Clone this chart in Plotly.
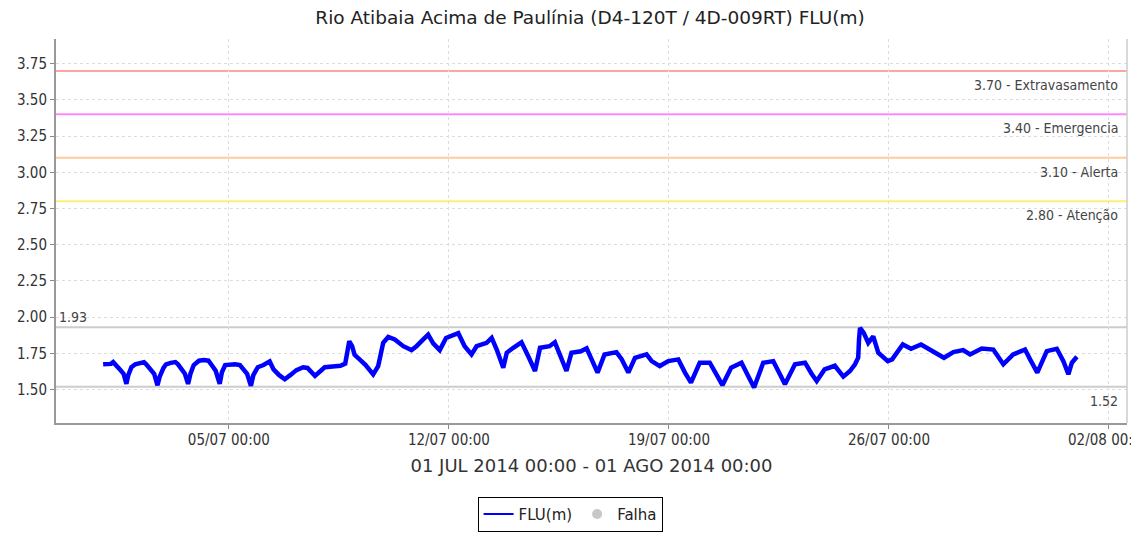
"""
Nivel do Rio Atibaia (FLU) - julho 2014, com cotas de alerta.
"""

import plotly.graph_objects as go

_BLUE = "#0000FF"
_GRID = "#DDDDDD"
_TEXT = "#333333"
_FONT = "DejaVu Sans"
_FONT_COND = "DejaVu Sans Condensed"

TITLE = "Rio Atibaia Acima de Paulínia (D4-120T / 4D-009RT) FLU(m)"
PERIOD = "01 JUL 2014 00:00 - 01 AGO 2014 00:00"

# ─── DATA ─────────────────────────────────────────────────────────────────────

times = [
    "2014-07-01 00:00", "2014-07-01 03:00", "2014-07-01 06:00", "2014-07-01 07:40",
    "2014-07-01 09:10", "2014-07-01 10:50", "2014-07-01 13:10", "2014-07-01 15:35",
    "2014-07-01 17:45", "2014-07-01 19:10", "2014-07-01 21:35", "2014-07-02 00:30",
    "2014-07-02 03:35", "2014-07-02 07:10", "2014-07-02 08:55", "2014-07-02 12:00",
    "2014-07-02 14:55", "2014-07-02 17:30", "2014-07-02 19:10", "2014-07-02 22:05",
    "2014-07-03 00:00", "2014-07-03 03:35", "2014-07-03 07:10", "2014-07-03 09:10",
    "2014-07-03 12:00", "2014-07-03 14:25", "2014-07-03 16:50", "2014-07-03 18:40",
    "2014-07-03 21:10", "2014-07-04 01:10", "2014-07-04 04:50", "2014-07-04 08:25",
    "2014-07-04 10:50", "2014-07-04 13:55", "2014-07-04 17:00", "2014-07-04 18:40",
    "2014-07-04 21:10", "2014-07-05 01:10", "2014-07-05 04:50", "2014-07-05 08:25",
    "2014-07-05 10:50", "2014-07-05 13:55", "2014-07-05 16:50", "2014-07-05 18:40",
    "2014-07-05 22:05", "2014-07-06 02:25", "2014-07-06 07:10", "2014-07-06 10:05",
    "2014-07-06 14:25", "2014-07-06 18:40", "2014-07-06 22:50", "2014-07-07 03:35",
    "2014-07-07 08:40", "2014-07-07 12:00", "2014-07-07 17:45", "2014-07-07 21:35",
    "2014-07-08 01:10", "2014-07-08 07:10", "2014-07-08 13:10", "2014-07-08 16:50",
    "2014-07-08 18:00", "2014-07-08 19:55", "2014-07-08 22:05", "2014-07-09 00:00",
    "2014-07-09 04:50", "2014-07-09 08:25", "2014-07-09 14:10", "2014-07-09 18:00",
    "2014-07-09 21:50", "2014-07-10 01:40", "2014-07-10 06:40", "2014-07-10 13:10",
    "2014-07-10 19:25", "2014-07-10 23:15", "2014-07-11 04:50", "2014-07-11 08:10",
    "2014-07-11 12:00", "2014-07-11 17:00", "2014-07-11 21:50", "2014-07-12 02:25",
    "2014-07-12 07:10", "2014-07-12 12:00", "2014-07-12 17:15", "2014-07-12 21:10",
    "2014-07-13 04:50", "2014-07-13 08:40", "2014-07-13 12:30", "2014-07-13 17:30",
    "2014-07-13 20:10", "2014-07-14 01:10", "2014-07-14 07:25", "2014-07-14 12:30",
    "2014-07-14 17:45", "2014-07-14 21:35", "2014-07-15 04:50", "2014-07-15 08:55",
    "2014-07-15 12:45", "2014-07-15 17:45", "2014-07-15 21:35", "2014-07-16 04:50",
    "2014-07-16 09:10", "2014-07-16 13:10", "2014-07-16 17:30", "2014-07-16 22:50",
    "2014-07-17 04:50", "2014-07-17 07:55", "2014-07-17 12:00", "2014-07-17 17:00",
    "2014-07-17 22:05", "2014-07-18 03:35", "2014-07-18 06:55", "2014-07-18 10:50",
    "2014-07-18 17:00", "2014-07-18 23:30", "2014-07-19 07:10", "2014-07-19 12:15",
    "2014-07-19 16:50", "2014-07-19 23:30", "2014-07-20 07:10", "2014-07-20 12:15",
    "2014-07-20 16:50", "2014-07-20 23:30", "2014-07-21 07:25", "2014-07-21 12:30",
    "2014-07-21 17:00", "2014-07-22 00:00", "2014-07-22 07:40", "2014-07-22 12:45",
    "2014-07-22 16:35", "2014-07-23 00:15", "2014-07-23 07:55", "2014-07-23 12:55",
    "2014-07-23 16:50", "2014-07-23 22:50", "2014-07-24 06:40", "2014-07-24 13:10",
    "2014-07-24 18:15", "2014-07-24 22:05", "2014-07-25 00:30", "2014-07-25 01:10",
    "2014-07-25 01:55", "2014-07-25 04:50", "2014-07-25 08:10", "2014-07-25 12:00",
    "2014-07-25 15:50", "2014-07-25 23:05", "2014-07-26 02:25", "2014-07-26 10:35",
    "2014-07-26 16:50", "2014-07-27 00:30", "2014-07-27 09:50", "2014-07-27 18:00",
    "2014-07-28 01:10", "2014-07-28 08:40", "2014-07-28 13:55", "2014-07-28 22:50",
    "2014-07-29 07:40", "2014-07-29 15:20", "2014-07-29 22:50", "2014-07-30 07:55",
    "2014-07-30 11:45", "2014-07-30 17:15", "2014-07-31 00:30", "2014-07-31 08:10",
    "2014-07-31 13:10", "2014-07-31 17:00", "2014-07-31 19:40", "2014-07-31 23:30",
]

flu_m = [
    1.675, 1.680, 1.678, 1.690, 1.672, 1.655, 1.635, 1.610,
    1.540, 1.600, 1.655, 1.675, 1.680, 1.690, 1.675, 1.640,
    1.610, 1.530, 1.590, 1.650, 1.675, 1.685, 1.690, 1.675,
    1.640, 1.610, 1.540, 1.610, 1.670, 1.700, 1.705, 1.700,
    1.670, 1.630, 1.540, 1.620, 1.670, 1.675, 1.675, 1.670,
    1.640, 1.610, 1.527, 1.600, 1.655, 1.670, 1.695, 1.640,
    1.600, 1.572, 1.600, 1.635, 1.655, 1.650, 1.595, 1.625,
    1.655, 1.660, 1.665, 1.680, 1.750, 1.834, 1.800, 1.740,
    1.700, 1.670, 1.606, 1.663, 1.823, 1.864, 1.846, 1.800,
    1.773, 1.800, 1.850, 1.880, 1.820, 1.773, 1.857, 1.870,
    1.890, 1.800, 1.743, 1.800, 1.823, 1.857, 1.777, 1.652,
    1.755, 1.789, 1.827, 1.732, 1.629, 1.789, 1.800, 1.827,
    1.740, 1.629, 1.755, 1.765, 1.785, 1.709, 1.618, 1.743,
    1.750, 1.759, 1.709, 1.618, 1.720, 1.735, 1.743, 1.697,
    1.663, 1.697, 1.709, 1.618, 1.549, 1.686, 1.686, 1.606,
    1.531, 1.652, 1.686, 1.595, 1.515, 1.686, 1.697, 1.606,
    1.538, 1.675, 1.686, 1.610, 1.560, 1.640, 1.665, 1.590,
    1.629, 1.675, 1.720, 1.850, 1.926, 1.890, 1.823, 1.868,
    1.755, 1.697, 1.709, 1.812, 1.782, 1.812, 1.766, 1.720,
    1.759, 1.773, 1.743, 1.784, 1.777, 1.675, 1.743, 1.777,
    1.709, 1.618, 1.766, 1.782, 1.697, 1.606, 1.686, 1.727,
]

# alert levels
level_values = [3.70, 3.40, 3.10, 2.80]
level_names = ["Extravasamento", "Emergencia", "Alerta", "Atenção"]
level_colors = ["#FFA3A3", "#FF88FF", "#FFCC99", "#FFEE77"]

flu_max = 1.93
flu_min = 1.52

y_ticks = [1.50, 1.75, 2.00, 2.25, 2.50, 2.75, 3.00, 3.25, 3.50, 3.75]
x_ticks = ["2014-07-05", "2014-07-12", "2014-07-19", "2014-07-26", "2014-08-02"]

# ─── FIGURE ───────────────────────────────────────────────────────────────────

fig = go.Figure()

fig.add_trace(
    go.Scatter(
        x=times,
        y=flu_m,
        mode="lines",
        name="FLU(m)",
        line=dict(color=_BLUE, width=4.5),
        showlegend=False,
    )
)
# legend entries only (thin line sample + falha dot)
fig.add_trace(
    go.Scatter(
        x=[None], y=[None], mode="lines", name="FLU(m)",
        line=dict(color=_BLUE, width=2),
    )
)
fig.add_trace(
    go.Scatter(
        x=[None], y=[None], mode="markers", name="Falha",
        marker=dict(color="#C8C8C8", size=10, symbol="circle"),
    )
)

# alert levels
for val, name, color in zip(level_values, level_names, level_colors):
    fig.add_shape(
        type="line", xref="paper", x0=0, x1=1, yref="y", y0=val, y1=val,
        line=dict(color=color, width=2), layer="below",
    )
    fig.add_annotation(
        x=0.993, xref="paper", y=val, yref="y",
        text=f"{val:.2f} - {name}",
        showarrow=False, xanchor="right", yanchor="top", yshift=-4,
        font=dict(family=_FONT_COND, size=14, color="#444444"),
    )

# max / min lines
for val, xpos, xanc, yanc, shift in [
    (flu_max, 0.001, "left", "bottom", 0),
    (flu_min, 0.993, "right", "top", -4),
]:
    fig.add_shape(
        type="line", xref="paper", x0=0, x1=1, yref="y", y0=val, y1=val,
        line=dict(color="#CCCCCC", width=2), layer="below",
    )
    fig.add_annotation(
        x=xpos, xref="paper", y=val, yref="y",
        text=f"{val:.2f}",
        showarrow=False, xanchor=xanc, yanchor=yanc, yshift=shift,
        font=dict(family=_FONT_COND, size=14, color="#444444"),
    )

# light right border
fig.add_shape(
    type="line", xref="paper", x0=1, x1=1, yref="paper", y0=0, y1=1,
    line=dict(color="#CCCCCC", width=1.5),
)

# page body has an 8px margin, so the figure is 16px smaller than the window
fig.update_layout(
    width=1131,
    height=525,
    margin=dict(l=48, r=12, t=31, b=110),
    paper_bgcolor="white",
    plot_bgcolor="white",
    title=dict(
        text=TITLE, xref="container", x=0.5146, xanchor="center",
        yref="container", y=0.981, yanchor="middle",
        font=dict(family=_FONT, size=18.5, color="#222222"),
    ),
    font=dict(family=_FONT_COND, color=_TEXT),
    xaxis=dict(
        type="date",
        range=["2014-06-29 12:00", "2014-08-02 13:45"],
        tickvals=x_ticks,
        tickformat="%d/%m %H:%M",
        tickfont=dict(family=_FONT_COND, size=15, color=_TEXT),
        ticks="outside", ticklen=4, tickcolor="#888888",
        ticklabelstandoff=-2,
        ticklabeloverflow="allow",
        showgrid=True, gridcolor=_GRID, griddash="3px,3px", gridwidth=1,
        showline=True, linecolor="#999999", linewidth=2,
        zeroline=False,
        automargin=False,
        title=dict(text=PERIOD, font=dict(family=_FONT, size=18, color="#333333"), standoff=11),
    ),
    yaxis=dict(
        range=[1.27, 3.92],
        tickvals=y_ticks,
        tickformat=".2f",
        tickfont=dict(family=_FONT_COND, size=15, color=_TEXT),
        ticks="outside", ticklen=4, tickcolor="#888888",
        showgrid=True, gridcolor=_GRID, griddash="3px,3px", gridwidth=1,
        showline=True, linecolor="#999999", linewidth=2,
        zeroline=False,
        automargin=False,
    ),
    showlegend=True,
    legend=dict(
        orientation="h",
        xref="container", x=0.497, xanchor="center",
        yref="container", y=0.069, yanchor="top",
        bordercolor="#000000", borderwidth=1,
        font=dict(family=_FONT, size=15, color="#222222"),
        itemwidth=30,
        tracegroupgap=0,
    ),
)

fig.write_html("out.html")
